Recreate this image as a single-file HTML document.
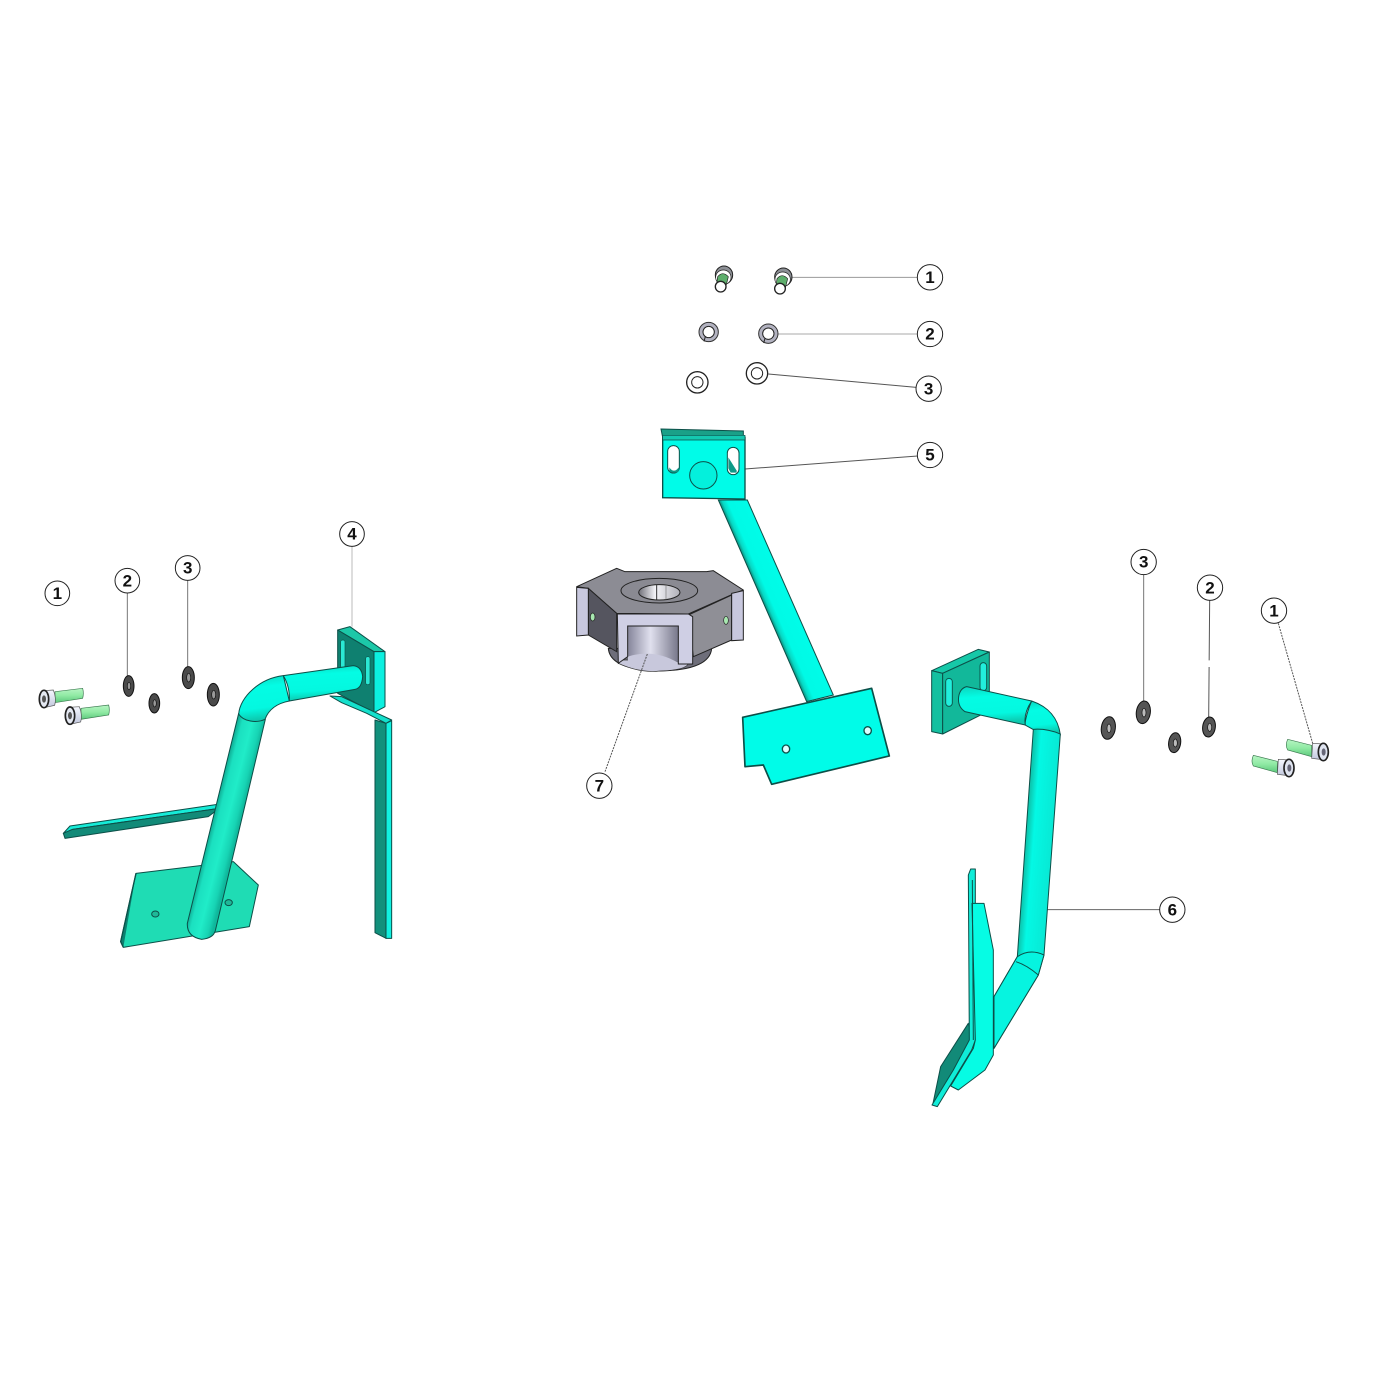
<!DOCTYPE html>
<html><head><meta charset="utf-8"><style>
html,body{margin:0;padding:0;background:#fff;width:1376px;height:1376px;overflow:hidden}
svg{display:block;filter:blur(.35px)}
text{font-family:"Liberation Sans",sans-serif;font-weight:bold;font-size:51px;text-anchor:middle;fill:#111}
.c{fill:#fff;stroke:#222;stroke-width:3}
.l{fill:none;stroke:#777;stroke-width:3}
.o{stroke:#0c4f48;stroke-width:3;stroke-linejoin:round}
</style></head><body>
<svg width="1376" height="1376" viewBox="0 0 1376 1376" xmlns="http://www.w3.org/2000/svg">
<defs>
<linearGradient id="tl" gradientUnits="userSpaceOnUse" x1="656" y1="610" x2="736" y2="630"><stop offset="0" stop-color="#0ea890"/><stop offset=".2" stop-color="#1be0c0"/><stop offset=".55" stop-color="#20ecc8"/><stop offset=".85" stop-color="#17d4b4"/><stop offset="1" stop-color="#0fb89c"/></linearGradient>
<linearGradient id="tu" x1="0" y1="0" x2=".14" y2="1"><stop offset="0" stop-color="#0cd4bc"/><stop offset=".3" stop-color="#04fce4"/><stop offset=".75" stop-color="#04f8e0"/><stop offset="1" stop-color="#0cc8ae"/></linearGradient>
<linearGradient id="tm" gradientUnits="userSpaceOnUse" x1="475" y1="0" x2="548" y2="-32"><stop offset="0" stop-color="#0a8e7c"/><stop offset=".12" stop-color="#08d8c4"/><stop offset=".3" stop-color="#00fae6"/><stop offset="1" stop-color="#00fce8"/></linearGradient>
<linearGradient id="tr" gradientUnits="userSpaceOnUse" x1="350" y1="0" x2="430" y2="6"><stop offset="0" stop-color="#0cc8b0"/><stop offset=".25" stop-color="#04f8e4"/><stop offset="1" stop-color="#08e8d4"/></linearGradient>
<linearGradient id="cy" x1="0" y1="0" x2="1" y2="0"><stop offset="0" stop-color="#85859a"/><stop offset=".45" stop-color="#e0e0ee"/><stop offset="1" stop-color="#77778a"/></linearGradient>
<linearGradient id="gb" x1="0" y1="0" x2="0" y2="1"><stop offset="0" stop-color="#b8f5c4"/><stop offset=".5" stop-color="#90eaa4"/><stop offset="1" stop-color="#5cc87c"/></linearGradient>
<linearGradient id="hd" x1="0" y1="0" x2="0" y2="1"><stop offset="0" stop-color="#f6f8ff"/><stop offset="1" stop-color="#c0c6dc"/></linearGradient>
<linearGradient id="ho" x1="0" y1="0" x2="1" y2="0"><stop offset="0" stop-color="#707078"/><stop offset=".4" stop-color="#f4f4f8"/><stop offset="1" stop-color="#b0b0b8"/></linearGradient>
</defs>

<!-- LEFT ASSEMBLY -->
<g transform="translate(20 510) scale(.33333)">
<line class="l" x1="322" y1="248" x2="322" y2="505"/>
<line class="l" x1="503" y1="210" x2="503" y2="470"/>
<line class="l" style="stroke:#bbb" x1="996" y1="110" x2="996" y2="350"/>
<circle class="c" cx="112" cy="250" r="37"/><text x="112" y="267">1</text>
<circle class="c" cx="322" cy="212" r="37"/><text x="322" y="229">2</text>
<circle class="c" cx="503" cy="174" r="37"/><text x="503" y="191">3</text>
<circle class="c" cx="996" cy="72" r="37"/><text x="996" y="89">4</text>
<!-- bolts -->
<g id="bl"><path d="M105 545L188 535Q192 550 188 565L105 578Z" fill="url(#gb)" stroke="#3c7a50" stroke-width="2"/>
<path d="M70 542L100 540Q110 565 104 586L72 593Z" fill="url(#hd)" stroke="#555" stroke-width="2"/>
<ellipse cx="72" cy="567" rx="14" ry="26" fill="#e4e8f2" stroke="#222" stroke-width="5"/><ellipse cx="72" cy="567" rx="6" ry="11" fill="#555"/></g>
<use href="#bl" x="78" y="50"/>
<!-- washers -->
<g fill="#4a4a4a" stroke="#111" stroke-width="3">
<ellipse cx="326" cy="528" rx="16" ry="31"/><ellipse cx="403" cy="580" rx="16" ry="29"/><ellipse cx="505" cy="503" rx="18" ry="33"/><ellipse cx="580" cy="554" rx="18" ry="34"/></g>
<g fill="#999" stroke="#111" stroke-width="2"><ellipse cx="327" cy="528" rx="5" ry="11"/><ellipse cx="404" cy="580" rx="5" ry="11"/><ellipse cx="506" cy="503" rx="6" ry="13"/><ellipse cx="581" cy="554" rx="6" ry="13"/></g>
<!-- vertical blade -->
<path class="o" d="M1065 630L1098 640V1285L1065 1268Z" fill="#12907c"/>
<path class="o" d="M1098 640L1115 632V1285H1098Z" fill="#12f0e0"/>
<!-- wall plate -->
<path class="o" d="M953 360L990 350L1095 425L1062 425Z" fill="#1cc8a8"/>
<path class="o" d="M953 360L1062 425V608L953 550Z" fill="#0f8070"/>
<path class="o" d="M1062 425H1095V590L1062 608Z" fill="#0cf0e0"/>
<rect x="962" y="390" width="13" height="84" rx="6" fill="#2be8d4" stroke="#0a5a50" stroke-width="2"/>
<rect x="1037" y="440" width="13" height="84" rx="6" fill="#2be8d4" stroke="#0a5a50" stroke-width="2"/>
<path class="o" d="M930 558L965 560L1115 630L1098 640L1040 610L965 578Z" fill="#14e0cc"/>
<!-- thin blade -->
<path class="o" d="M130 970L150 948L600 882L598 895L158 958Z" fill="#16ecd8"/>
<path class="o" d="M130 970L158 958L598 895L565 920L135 985Z" fill="#128a78"/>
<!-- bottom plate -->
<path d="M348 1090L640 1055L715 1125L688 1250L310 1312L302 1295Z" fill="#1fdcb4" stroke="#0c5048" stroke-width="3" stroke-linejoin="round"/>
<path d="M348 1090L302 1295L310 1312" fill="#0c8070" stroke="#0c5048" stroke-width="4"/>
<ellipse cx="406" cy="1212" rx="11" ry="9" fill="#1fb898" stroke="#0c5048" stroke-width="3"/>
<ellipse cx="626" cy="1178" rx="11" ry="9" fill="#1fb898" stroke="#0c5048" stroke-width="3"/>
<!-- tube -->
<path class="o" d="M656 610L502 1240Q500 1280 545 1288Q580 1285 586 1262L736 628Z" fill="url(#tl)"/>
<path class="o" d="M656 612C660 560 720 505 790 497L808 573C770 580 745 600 735 628C710 640 670 635 656 612Z" fill="url(#tu)"/>
<path class="o" d="M790 497L1000 467Q1025 470 1028 500Q1025 535 1005 538L808 573Q810 530 790 497Z" fill="url(#tu)"/>
</g>

<!-- CENTER TOP -->
<g transform="translate(560 250) scale(.33333)">
<line class="l" style="stroke:#999" x1="690" y1="82" x2="1073" y2="82"/>
<line class="l" style="stroke:#aaa" x1="650" y1="252" x2="1073" y2="252"/>
<line class="l" style="stroke:#555" x1="625" y1="372" x2="1069" y2="412"/>
<line class="l" style="stroke:#555" x1="555" y1="657" x2="1073" y2="618"/>
<circle class="c" cx="1110" cy="82" r="38"/><text x="1110" y="99">1</text>
<circle class="c" cx="1110" cy="252" r="38"/><text x="1110" y="269">2</text>
<circle class="c" cx="1106" cy="416" r="38"/><text x="1106" y="433">3</text>
<circle class="c" cx="1110" cy="615" r="38"/><text x="1110" y="632">5</text>
<!-- bolts -->
<g id="tb"><ellipse cx="492" cy="75" rx="26" ry="27" fill="#8d9096" stroke="#222" stroke-width="3"/>
<ellipse cx="490" cy="82" rx="23" ry="22" fill="#fff" stroke="#222" stroke-width="2"/>
<path d="M473 80Q488 62 505 80L498 108L470 102Z" fill="#5eae6c" stroke="#222" stroke-width="2"/>
<circle cx="482" cy="110" r="16" fill="#fff" stroke="#222" stroke-width="4"/></g>
<use href="#tb" x="178" y="6"/>
<!-- lock washers -->
<g id="lw"><circle cx="446" cy="246" r="29" fill="#b2b2c0" stroke="#333" stroke-width="3"/>
<circle cx="446" cy="246" r="17" fill="#fff" stroke="#222" stroke-width="3"/>
<line x1="436" y1="260" x2="432" y2="274" stroke="#222" stroke-width="3"/></g>
<use href="#lw" x="179" y="5"/>
<!-- flat washers -->
<circle cx="412" cy="397" r="32" fill="#fff" stroke="#222" stroke-width="4"/><circle cx="412" cy="397" r="17" fill="#fff" stroke="#222" stroke-width="3"/>
<circle cx="591" cy="370" r="32" fill="#fff" stroke="#222" stroke-width="4"/><circle cx="591" cy="370" r="17" fill="#fff" stroke="#222" stroke-width="3"/>
<!-- plate -->
<path d="M303 537L550 543V557L308 562Z" fill="#1aa088" stroke="#0c4f48" stroke-width="3"/>
<path d="M308 562H555V747L308 743Z" fill="#00fce8" stroke="#0c4f48" stroke-width="4"/>
<path d="M308 556L555 556V570H308Z" fill="#14c8b0" stroke="#0c4f48" stroke-width="2"/>
<rect x="323" y="587" width="35" height="82" rx="17" fill="#fff" stroke="#0c4f48" stroke-width="3"/>
<path d="M328 652Q342 672 356 652V664Q342 672 328 664Z" fill="#0e9a88"/>
<rect x="502" y="592" width="35" height="82" rx="17" fill="#fff" stroke="#0c4f48" stroke-width="3"/>
<path d="M505 622L530 662V668L512 668L505 655Z" fill="#0e9a88"/>
<circle cx="430" cy="676" r="41" fill="#04f0dc" stroke="#0c4f48" stroke-width="3"/>
</g>

<!-- CENTER BOTTOM -->
<g transform="translate(560 500) scale(.33333)">
<!-- tube -->
<path d="M475 0H562L820 585L740 605Z" fill="url(#tm)" stroke="#0c4f48" stroke-width="3"/>
<path d="M548 652L935 565L988 768L635 853L610 795L555 800Z" fill="#00fce8" stroke="#0c4f48" stroke-width="5" stroke-linejoin="round"/>
<ellipse cx="678" cy="747" rx="11" ry="12" fill="#dff" stroke="#0c4f48" stroke-width="4"/>
<ellipse cx="923" cy="692" rx="11" ry="12" fill="#dff" stroke="#0c4f48" stroke-width="4"/>
<!-- nut -->
<path d="M145 445Q150 510 300 513Q450 510 455 445Z" fill="#6e6e7a" stroke="#222" stroke-width="3"/>
<path d="M50 260L170 205L195 215L440 215L460 212L550 270L520 282L385 342L170 340L85 265Z" fill="#8c8c94" stroke="#222" stroke-width="3" stroke-linejoin="round"/>
<path d="M85 265L170 340V455L85 405Z" fill="#55555f" stroke="#222" stroke-width="3"/>
<path d="M385 345L515 285V420L400 470Z" fill="#8f8f96" stroke="#222" stroke-width="3"/>
<path d="M50 262L85 265V405L50 408Z" fill="#c8c8de" stroke="#222" stroke-width="3"/>
<path d="M515 280L550 272V420L515 422Z" fill="#c8c8de" stroke="#222" stroke-width="3"/>
<ellipse cx="98" cy="351" rx="7" ry="12" fill="#a8e8b0" stroke="#222" stroke-width="2"/>
<ellipse cx="498" cy="361" rx="7" ry="12" fill="#a8e8b0" stroke="#222" stroke-width="2"/>
<path d="M175 490Q240 520 300 513Q380 510 385 490V480H175Z" fill="#c8c8dc" stroke="#333" stroke-width="2"/>
<path d="M203 378H355V488Q280 450 203 475Z" fill="url(#cy)" stroke="#333" stroke-width="2"/>
<path d="M203 470Q280 445 355 488V492Q280 513 205 492Z" fill="#c8c8dc"/>
<path d="M172 342H385L398 350V492H355V378H203V470L175 490Z" fill="#cfcfe4" stroke="#222" stroke-width="3"/>
<ellipse cx="298" cy="272" rx="115" ry="37" fill="#8a8a92" stroke="#222" stroke-width="3"/>
<ellipse cx="298" cy="277" rx="62" ry="23" fill="url(#ho)" stroke="#222" stroke-width="3"/>
<line x1="290" y1="255" x2="290" y2="299" stroke="#333" stroke-width="3"/><line x1="318" y1="255" x2="318" y2="299" stroke="#777" stroke-width="2"/>
<line x1="262" y1="462" x2="135" y2="815" stroke="#555" stroke-width="3" stroke-dasharray="6 3"/>
<circle class="c" cx="118" cy="857" r="38"/><text x="118" y="874">7</text>
</g>

<!-- RIGHT ASSEMBLY UPPER -->
<g transform="translate(910 540) scale(.33333)">
<line class="l" x1="701" y1="105" x2="701" y2="490"/>
<line class="l" style="stroke:#555" x1="899" y1="181" x2="896" y2="540" stroke-dasharray="180 20"/>
<line x1="1105" y1="250" x2="1208" y2="610" stroke="#555" stroke-width="3" stroke-dasharray="6 3"/>
<circle class="c" cx="701" cy="66" r="38"/><text x="701" y="83">3</text>
<circle class="c" cx="900" cy="143" r="38"/><text x="900" y="160">2</text>
<circle class="c" cx="1092" cy="212" r="38"/><text x="1092" y="229">1</text>
<!-- washers -->
<g fill="#555" stroke="#111" stroke-width="3">
<ellipse cx="595" cy="564" rx="21" ry="34" transform="rotate(8 595 564)"/><ellipse cx="700" cy="517" rx="21" ry="34" transform="rotate(8 700 517)"/><ellipse cx="794" cy="608" rx="18" ry="30" transform="rotate(8 794 608)"/><ellipse cx="897" cy="561" rx="19" ry="30" transform="rotate(8 897 561)"/></g>
<g fill="#bbb" stroke="#111" stroke-width="2"><ellipse cx="597" cy="565" rx="6" ry="13"/><ellipse cx="702" cy="518" rx="6" ry="13"/><ellipse cx="796" cy="609" rx="6" ry="12"/><ellipse cx="899" cy="562" rx="6" ry="12"/></g>
<!-- bolts -->
<g id="rb"><path d="M1133 598L1205 616V650L1133 630Q1125 615 1133 598Z" fill="url(#gb)" stroke="#3c7a50" stroke-width="2"/>
<path d="M1208 610L1240 612L1246 660L1205 655Z" fill="url(#hd)" stroke="#555" stroke-width="2"/>
<ellipse cx="1240" cy="636" rx="15" ry="26" fill="#dfe4f0" stroke="#222" stroke-width="5"/><ellipse cx="1241" cy="636" rx="6" ry="11" fill="#667"/></g>
<use href="#rb" x="-103" y="48"/>
<!-- plate -->
<path class="o" d="M65 392L205 328L238 336L98 400Z" fill="#16c8a8"/>
<path class="o" d="M65 392L98 400V582L65 575Z" fill="#14c0a0"/>
<path class="o" d="M98 400L238 336V512L98 582Z" fill="#12b89a"/>
<rect x="107" y="415" width="20" height="84" rx="10" fill="#22eedc" stroke="#0c5a50" stroke-width="3"/>
<rect x="210" y="368" width="20" height="84" rx="10" fill="#22eedc" stroke="#0c5a50" stroke-width="3"/>
<!-- tube upper + bend -->
<path class="o" d="M372 570L345 555C345 540 355 505 365 483C415 500 445 535 451 585Z" fill="url(#tu)"/>
<path class="o" d="M170 440L365 483Q340 520 346 555L165 515Q142 500 146 470Q150 445 170 440Z" fill="url(#tu)"/>
</g>

<!-- RIGHT ASSEMBLY LOWER -->
<g transform="translate(910 840) scale(.33333)">
<line x1="400" y1="209" x2="750" y2="209" stroke="#666" stroke-width="3"/>
<circle class="c" cx="787" cy="209" r="38"/><text x="787" y="226">6</text>
<!-- dark plate -->
<path class="o" d="M175 550L190 600L125 730L95 770L68 795L92 680Z" fill="#128a78"/>
<!-- tube -->
<path class="o" d="M370 -332L322 350L252 470L252 625L385 405L402 345L451 -318Q410 -335 370 -332Z" fill="url(#tr)"/>
<path d="M322 350L252 470L252 625L385 405L402 345Q360 325 322 350Z" fill="#06f4e0" stroke="#0c4f48" stroke-width="3" stroke-linejoin="round"/>
<path d="M318 365Q350 375 385 405" fill="none" stroke="#0c4f48" stroke-width="3"/>
<!-- flat fin -->
<path class="o" d="M175 105L182 87L196 87V600L185 630L82 800L66 795L130 690L178 600Z" fill="#10ecd8"/>
<path class="o" d="M186 190L222 190L250 330V645L225 690L145 750L122 738L190 625L196 600Z" fill="#06fce4"/>
<line x1="187" y1="120" x2="190" y2="600" stroke="#0c4f48" stroke-width="3"/>
</g>
</svg>
</body></html>
